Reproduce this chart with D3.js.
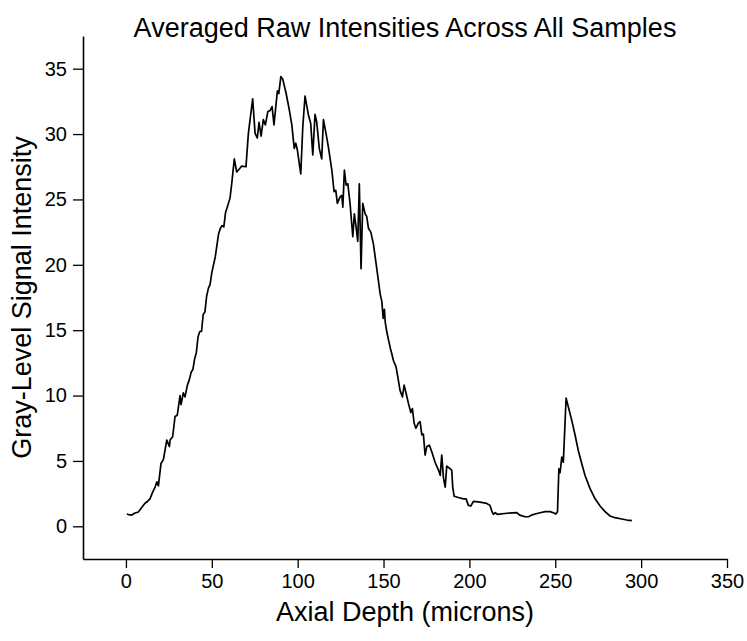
<!DOCTYPE html>
<html>
<head>
<meta charset="utf-8">
<script src="https://cdn.jsdelivr.net/npm/d3@7"></script>
<style>
  body { margin: 0; background: #fff; }
  svg text { font-family: "Liberation Sans", Arial, sans-serif; fill: #000; }
  .line { fill: none; stroke: #000; stroke-width: 1.7; stroke-linejoin: round; }
</style>
</head>
<body>
<svg id="chart" width="747" height="641"></svg>
<script>
// depth (microns) and averaged intensity
var depth = [0.5,1.5,3.4,5,7.2,9,11.1,12.5,14,15.5,17,18,18.9,20.4,21.8,23.8,25.3,25.7,27.2,28.6,29.9,31.5,32.1,33.4,34.4,35.8,36.9,
  38,39,40,41,42,43,44,45,46,47,48,49,50,51,52,53,54,55,56,57,58,59,60.6,61.6,63.1,64.5,66.5,67.4,69.9,
  71.3,72.3,73.8,75.2,76.5,77.5,78.7,80,81.2,82.6,83.9,85.1,86.2,88.2,89,90.2,91.3,93.3,95.2,96.6,98,98.9,99.8,
  101.8,103,104.3,106.2,107.6,108.8,110.1,111.1,112.6,114,115,116.5,117.9,119.9,121.2,122.2,123.1,124.7,125.7,126.3,
  127.2,128.2,129.2,130.5,132.1,133,134,135,135.9,136.9,137.9,139.3,140.2,141.2,142.6,144.1,147,148,149,149.8,150.5,
  151,152,153,154,155,155.7,157.3,158.6,159.6,161,162,163.1,164.5,165.9,166.8,167.8,168.8,170.3,171.3,172.3,173.2,
  174.2,175.2,176.7,178.1,180,182,183,183.9,184.9,185.9,186.8,188.8,189.7,190.3,191.1,193.6,196.5,198.1,199.4,200.8,
  202.3,206.2,210.1,212,213.2,214,215,216.3,221.8,227.6,229.3,232.4,234.4,236.3,238.2,241.2,244.1,247,248.9,250.3,
  251.3,252.1,252.8,253.8,254.7,256.3,257.6,259.6,261.5,263.4,265.4,267.3,270.2,273.2,276.1,279,281.9,284.8,288.7,291.7,294.6];
var intensity = [0.94,0.9,0.86,1,1.1,1.4,1.76,1.9,2.1,2.6,3,3.4,3.1,4.8,5.1,6.6,6.1,6.6,6.85,8.4,8.5,10,9.3,10.2,9.9,10.8,11.2,
  11.8,12,12.8,13.3,14.5,14.9,14.9,16.2,16.4,17.6,18.2,18.5,19.4,20,20.6,21.5,22.4,22.8,23,22.9,24,24.4,25.1,26.2,28.1,27.1,27.4,27.55,27.5,
  30.05,31.1,32.7,30.05,29.7,30.9,29.85,31.1,30.7,31.7,31.8,32.1,30.7,33.3,33.1,34.4,34.2,33.1,31.8,30.7,28.9,29.3,28.8,
  26.95,30.6,32.9,31.5,30.8,28.4,31.5,30.9,28.9,28.1,31.1,30.05,29,27.25,25.6,25.7,24.7,25.2,25.3,24.4,
  27.25,26.1,26.2,24.7,22.15,23.9,22.9,21.8,26.2,19.7,24.7,23.9,23.7,22.8,22.5,21.6,18.8,17.8,17.2,15.9,16.6,
  15.6,14.8,14.2,13.6,13.1,12.7,12.2,11.2,10.4,9.9,10.8,10.2,9.4,8.7,9,7.9,7.5,7.9,8,7,7.05,
  5.45,6.1,6.2,5.7,4.9,4.3,3.9,5.45,3.7,3,4.6,4.4,4.3,3,2.3,2.2,2.1,2.1,1.6,1.55,
  1.9,1.85,1.75,1.6,1.1,0.92,1.04,0.92,1,1.04,0.86,0.73,0.73,0.86,0.94,1.04,1.12,1.12,1.04,0.94,
  1.12,4.4,4.1,5.3,4.9,9.8,9.15,8.1,7,5.8,4.8,3.9,2.9,2.1,1.55,1.12,0.79,0.66,0.56,0.48,0.43];

var xTicks = [0, 50, 100, 150, 200, 250, 300, 350];
var yTicks = [0, 5, 10, 15, 20, 25, 30, 35];
var xMinor = [-25, 25, 75, 125, 175, 225, 275, 325];
var yMinor = [-2.5, 2.5, 7.5, 12.5, 17.5, 22.5, 27.5, 32.5, 37.5];

var margin = { top: 36, right: 20, bottom: 82, left: 83 };
var W = 747, H = 641;

const svg = d3.select('#chart');

var x = d3.scaleLinear().domain([-25, 350]).range([margin.left, W - margin.right]);
var y = d3.scaleLinear().domain([-2.5, 37.5]).range([H - margin.bottom, margin.top]);

var pts = depth.map((d, i) => [d, intensity[i]]);

const line = d3.line()
  .x(d => x(d[0]))
  .y(d => y(d[1]));

svg.append('path')
  .datum(pts)
  .attr('class', 'line')
  .attr('d', line);

// x axis with major + minor ticks
const gx = svg.append('g')
  .attr('transform', `translate(0,${H - margin.bottom})`);
gx.call(d3.axisBottom(x).tickValues(xMinor).tickSize(5).tickFormat(''))
gx.call(d3.axisBottom(x).tickValues(xTicks).tickSize(9).tickPadding(6).tickSizeOuter(0))
gx.selectAll('.domain').attr('stroke-width', 1.6);
gx.selectAll('.tick line').attr('stroke-width', 1.3);
gx.selectAll('text').style('font-size', '20px');

const gy = svg.append('g')
  .attr('transform', `translate(${margin.left},0)`);
gy.call(d3.axisLeft(y).tickValues(yMinor).tickSize(5).tickFormat(''))
gy.call(d3.axisLeft(y).tickValues(yTicks).tickSize(10).tickPadding(6).tickSizeOuter(0))
gy.selectAll('.domain').attr('stroke-width', 1.6);
gy.selectAll('.tick line').attr('stroke-width', 1.3);
gy.selectAll('text').style('font-size', '20px');

// titles
svg.append('text')
  .attr('x', (margin.left + W - margin.right) / 2)
  .attr('y', 37)
  .attr('text-anchor', 'middle')
  .style('font-size', '27px')
  .text('Averaged Raw Intensities Across All Samples');

svg.append('text')
  .attr('x', (margin.left + W - margin.right) / 2)
  .attr('y', 621)
  .attr('text-anchor', 'middle')
  .style('font-size', '27px')
  .text('Axial Depth (microns)');

svg.append('text')
  .attr('transform', 'translate(31,' + ((margin.top + H - margin.bottom) / 2) + ') rotate(-90)')
  .attr('text-anchor', 'middle')
  .style('font-size', '27px')
  .text('Gray-Level Signal Intensity');
</script>
</body>
</html>
